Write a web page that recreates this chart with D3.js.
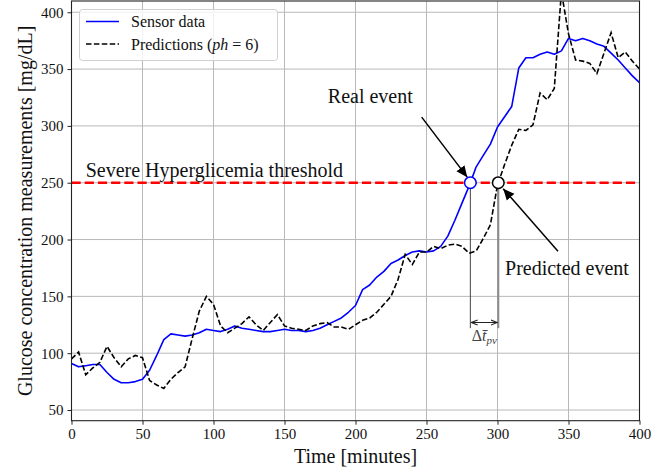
<!DOCTYPE html>
<html>
<head>
<meta charset="utf-8">
<script src="https://cdn.jsdelivr.net/npm/d3@7"></script>
<style>
  body { margin: 0; background: #fff; }
  svg text { font-family: "Liberation Serif", "Times New Roman", serif; fill: #111; }
</style>
</head>
<body>
<div id="chart"></div>
<script>
// sample times (minutes), one reading every 5 minutes
const times = d3.range(0, 401, 5);

// sensor readings [mg/dL]
const sensor = [
  91, 88, 89, 90, 90, 83, 77, 74, 74, 75,
  77, 85, 98, 112, 117, 116, 115, 116, 118, 121,
  120, 119, 121, 124, 122, 121, 120, 119, 119, 120,
  121, 120, 120, 119, 120, 122, 125, 128, 131, 136,
  142, 156, 160, 167, 172, 179, 182, 186, 189, 190,
  189, 190, 194, 203, 217, 232, 247, 264, 274, 284,
  299, 308, 317, 351, 360, 360, 363, 365, 363, 366,
  377, 375, 377, 375, 372, 370, 364, 358, 351, 344,
  338
];

// model predictions, ph = 6
const predictions = [
  95, 101, 81, 87, 92, 106, 96, 88, 95, 98,
  96, 76, 72, 69, 77, 83, 88, 113, 137, 150,
  143, 124, 118, 122, 126, 132, 125, 120, 127, 134,
  124, 122, 121, 120, 124, 126, 127, 123, 123, 121,
  125, 129, 131, 136, 143, 150, 165, 187, 178, 189,
  189, 194, 192, 195, 196, 194, 188, 190, 201, 213,
  248, 266, 283, 297, 296, 301, 329, 323, 333, 418,
  381, 358, 357, 355, 346, 364, 382, 360, 365, 357,
  350
];

const threshold = 250;
const xTicks = [0, 50, 100, 150, 200, 250, 300, 350, 400];
const yTicks = [50, 100, 150, 200, 250, 300, 350, 400];

const width = 672, height = 474;
const svg = d3.select("#chart").append("svg")
  .attr("width", width).attr("height", height);

const x = d3.scaleLinear().domain([0, 400]).range([71.5, 639.5]);
const y = d3.scaleLinear().domain([40.6, 409.9]).range([420.7, 1]);
const x0 = x.range()[0], x1 = x.range()[1], yb = y.range()[0], yt = y.range()[1];

// first time the series goes over the threshold (linear interpolation)
function crossing(vals) {
  for (let i = 1; i < vals.length; i++) {
    if (vals[i - 1] < threshold && vals[i] >= threshold) {
      const f = (threshold - vals[i - 1]) / (vals[i] - vals[i - 1]);
      return times[i - 1] + f * (times[i] - times[i - 1]);
    }
  }
}
const realEvent = crossing(sensor);
const predEvent = crossing(predictions);

svg.append("defs").append("clipPath").attr("id", "plot")
  .append("rect").attr("x", x0).attr("y", yt).attr("width", x1 - x0).attr("height", yb - yt);

const defs = svg.select("defs");
defs.append("marker").attr("id", "head").attr("viewBox", "0 0 10 10")
  .attr("refX", 10).attr("refY", 5).attr("markerWidth", 7.5).attr("markerHeight", 7.5)
  .attr("markerUnits", "strokeWidth").attr("orient", "auto")
  .append("path").attr("d", "M0,0.5 L10,5 L0,9.5 Z").attr("fill", "#000");
defs.append("marker").attr("id", "small").attr("viewBox", "0 0 10 10")
  .attr("refX", 9).attr("refY", 5).attr("markerWidth", 7).attr("markerHeight", 7)
  .attr("orient", "auto-start-reverse")
  .append("path").attr("d", "M0,1.5 L9,5 L0,8.5").attr("fill", "none").attr("stroke", "#222").attr("stroke-width", 1.5);

// grid
const grid = svg.append("g").attr("stroke", "#b8b8b8").attr("stroke-width", 1);
grid.selectAll(".gx").data(xTicks).join("line")
  .attr("x1", d => x(d)).attr("x2", d => x(d)).attr("y1", yt).attr("y2", yb);
grid.selectAll(".gy").data(yTicks).join("line")
  .attr("y1", d => y(d)).attr("y2", d => y(d)).attr("x1", x0).attr("x2", x1);

// vertical event lines and delta arrow
const deltaY = 127, vBottom = 122;
svg.append("line").attr("x1", x(realEvent)).attr("x2", x(realEvent))
  .attr("y1", y(threshold)).attr("y2", y(vBottom)).attr("stroke", "#444").attr("stroke-width", 1);
svg.append("line").attr("x1", x(predEvent)).attr("x2", x(predEvent))
  .attr("y1", y(threshold)).attr("y2", y(vBottom)).attr("stroke", "#8c8c8c").attr("stroke-width", 2);
svg.append("line").attr("x1", x(realEvent) + 1).attr("x2", x(predEvent) - 1)
  .attr("y1", y(deltaY)).attr("y2", y(deltaY)).attr("stroke", "#222").attr("stroke-width", 1)
  .attr("marker-start", "url(#small)").attr("marker-end", "url(#small)");
const dl = svg.append("text").attr("x", x((realEvent + predEvent) / 2)).attr("y", y(111))
  .attr("text-anchor", "middle").attr("font-size", 16).style("fill", "#444");
dl.append("tspan").text("Δ");
dl.append("tspan").attr("font-style", "italic").text("t\u0304");
dl.append("tspan").attr("font-style", "italic").attr("font-size", 11).attr("dy", 3).text("pv");

const line = d3.line().x((d, i) => x(times[i])).y(d => y(d));
const plot = svg.append("g").attr("clip-path", "url(#plot)");

plot.append("path").datum(sensor).attr("d", line)
  .attr("fill", "none").attr("stroke", "#0000ff").attr("stroke-width", 1.6).attr("stroke-linejoin", "round");
plot.append("path").datum(predictions).attr("d", line)
  .attr("fill", "none").attr("stroke", "#000").attr("stroke-width", 1.6)
  .attr("stroke-dasharray", "5.5 2.4");

// threshold
plot.append("line").attr("x1", x0).attr("x2", x1).attr("y1", y(threshold)).attr("y2", y(threshold))
  .attr("stroke", "#ff0000").attr("stroke-width", 2.5).attr("stroke-dasharray", "9.2 4");
svg.append("text").attr("x", x(10)).attr("y", y(255)).attr("font-size", 20)
  .text("Severe Hyperglicemia threshold");

// event markers
svg.append("circle").attr("cx", x(realEvent)).attr("cy", y(threshold)).attr("r", 5.8)
  .attr("fill", "#fff").attr("stroke", "#0000ff").attr("stroke-width", 1.5);
svg.append("circle").attr("cx", x(predEvent)).attr("cy", y(threshold)).attr("r", 5.8)
  .attr("fill", "#fff").attr("stroke", "#000").attr("stroke-width", 1.5);

// annotations
svg.append("text").attr("x", x(180.5)).attr("y", y(320)).attr("font-size", 20).text("Real event");
svg.append("line").attr("x1", x(246.6)).attr("y1", y(307.7)).attr("x2", x(278.7)).attr("y2", y(254.9))
  .attr("stroke", "#000").attr("stroke-width", 1.5).attr("marker-end", "url(#head)");
svg.append("text").attr("x", x(305.3)).attr("y", y(168.4)).attr("font-size", 20).text("Predicted event");
svg.append("line").attr("x1", x(342.6)).attr("y1", y(189.8)).attr("x2", x(304)).attr("y2", y(244.7))
  .attr("stroke", "#000").attr("stroke-width", 1.5).attr("marker-end", "url(#head)");

// axes
const xAxis = svg.append("g").attr("transform", `translate(0,${yb})`)
  .call(d3.axisBottom(x).tickValues(xTicks).tickSize(4).tickPadding(4));
const yAxis = svg.append("g").attr("transform", `translate(${x0},0)`)
  .call(d3.axisLeft(y).tickValues(yTicks).tickSize(4).tickPadding(4));
[xAxis, yAxis].forEach(g => {
  g.selectAll("text").attr("font-size", 15).style("font-family", '"Liberation Serif", serif').attr("fill", "#222");
  g.selectAll("line").attr("stroke", "#222");
  g.select(".domain").remove();
});
svg.append("rect").attr("x", x0).attr("y", yt).attr("width", x1 - x0).attr("height", yb - yt)
  .attr("fill", "none").attr("stroke", "#222").attr("stroke-width", 1.1);

svg.append("text").attr("x", (x0 + x1) / 2).attr("y", 463).attr("text-anchor", "middle")
  .attr("font-size", 20).text("Time [minutes]");
svg.append("text").attr("transform", `translate(32,${(yt + yb) / 2}) rotate(-90)`)
  .attr("text-anchor", "middle").attr("font-size", 20)
  .text("Glucose concentration measurements [mg/dL]");

// legend
const lg = svg.append("g");
lg.append("rect").attr("x", 79.5).attr("y", 9.5).attr("width", 198).attr("height", 51).attr("rx", 3)
  .attr("fill", "#fff").attr("fill-opacity", 0.8).attr("stroke", "#d0d0d0");
lg.append("line").attr("x1", 86).attr("x2", 119).attr("y1", 21.5).attr("y2", 21.5)
  .attr("stroke", "#0000ff").attr("stroke-width", 1.6);
lg.append("line").attr("x1", 86).attr("x2", 119).attr("y1", 44).attr("y2", 44)
  .attr("stroke", "#000").attr("stroke-width", 1.6).attr("stroke-dasharray", "5.5 2.4");
lg.append("text").attr("x", 131).attr("y", 27).attr("font-size", 16).text("Sensor data");
const lt = lg.append("text").attr("x", 131).attr("y", 50).attr("font-size", 16);
lt.append("tspan").text("Predictions (");
lt.append("tspan").attr("font-style", "italic").text("ph");
lt.append("tspan").text(" = 6)");
</script>
</body>
</html>
